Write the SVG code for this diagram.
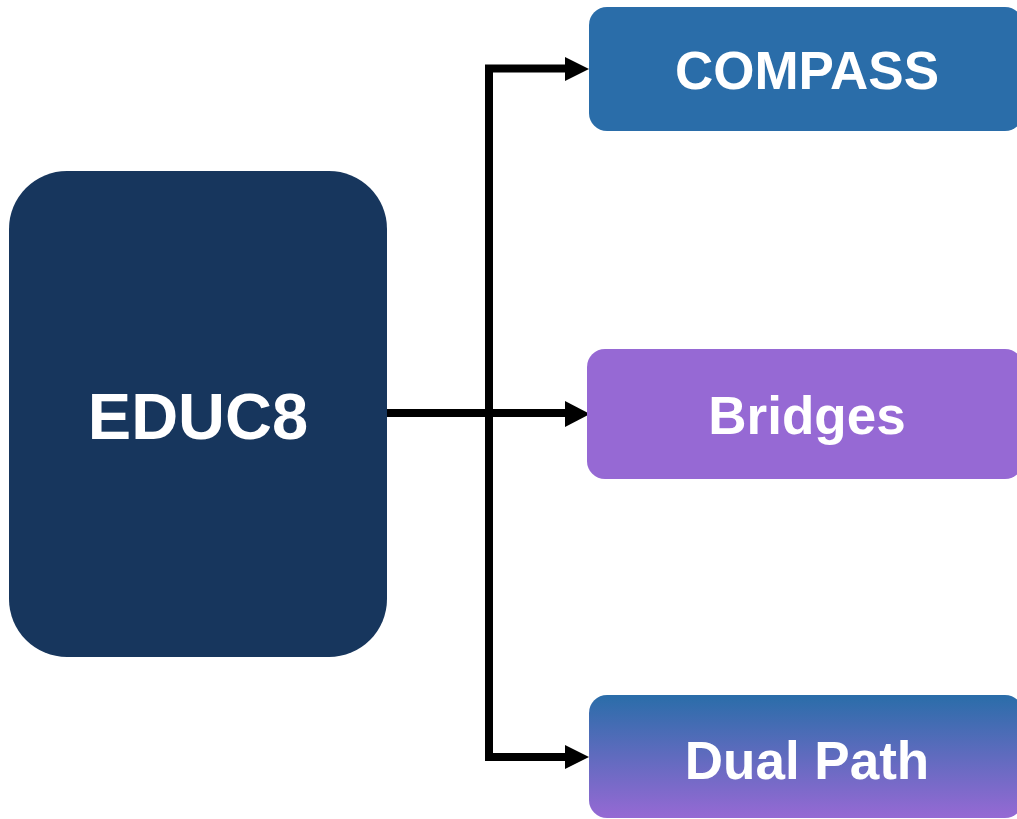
<svg xmlns="http://www.w3.org/2000/svg" width="1017" height="819" viewBox="0 0 1017 819">
<defs>
<linearGradient id="gDual" x1="0" y1="0" x2="0" y2="1">
<stop offset="0" stop-color="#2A6DA9"/>
<stop offset="1" stop-color="#9669D4"/>
</linearGradient>
</defs>
<style>
text{font-family:"Liberation Sans",Arial,sans-serif;font-weight:bold;fill:#fff;text-anchor:middle}
.conn{fill:none;stroke:#000;stroke-width:8;stroke-linejoin:miter}
.head{fill:#000}
</style>
<rect width="1017" height="819" fill="#fff"/>
<g id="connectors">
<path class="conn" d="M567,757 L489,757 L489,68.5 L567,68.5"/>
<path class="conn" d="M387,413 L567,413"/>
<path class="head" d="M565,57 L589,69 L565,81 Z"/>
<path class="head" d="M565,401 L590,414 L565,427 Z"/>
<path class="head" d="M565,745 L589,757 L565,769 Z"/>
</g>
<g id="educ8">
<rect x="9" y="171" width="378" height="486" rx="58" fill="#17365D"/>
<text x="198" y="439" font-size="65">EDUC8</text>
</g>
<g id="compass">
<rect x="589" y="7" width="434" height="124" rx="18" fill="#2A6DA9"/>
<text x="807" y="89" font-size="53">COMPASS</text>
</g>
<g id="bridges">
<rect x="587" y="349" width="436" height="130" rx="18" fill="#9669D4"/>
<text x="807" y="434" font-size="53">Bridges</text>
</g>
<g id="dualpath">
<rect x="589" y="695" width="434" height="123" rx="18" fill="url(#gDual)"/>
<text x="807" y="779" font-size="53">Dual Path</text>
</g>
</svg>
